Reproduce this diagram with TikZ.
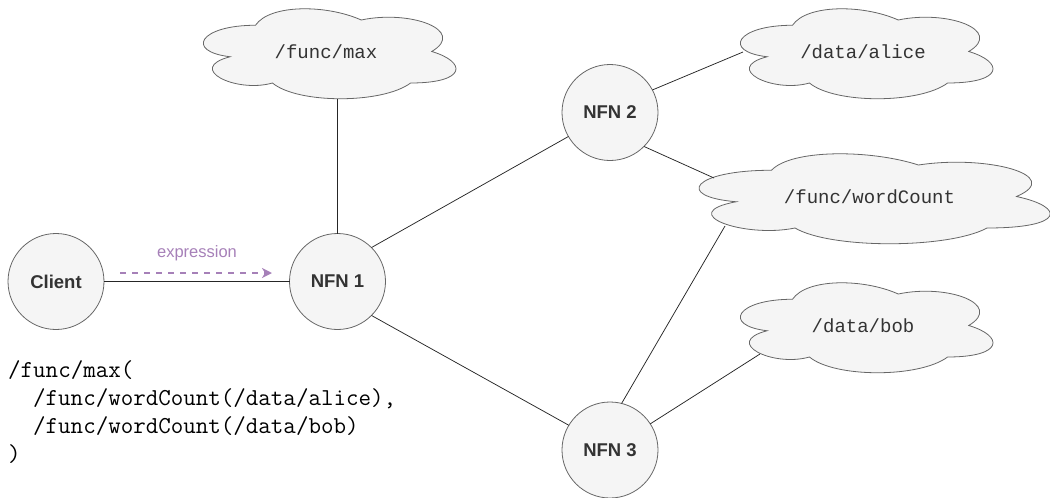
\documentclass[tikz,border=0pt]{standalone}
\usepackage{fontspec}
\setsansfont{Liberation Sans}
\newfontfamily\cloudmono{Liberation Mono}
\usetikzlibrary{arrows.meta}
\definecolor{nodefill}{HTML}{F5F5F5}
\definecolor{nodeline}{HTML}{666666}
\definecolor{nodetext}{HTML}{333333}
\definecolor{exprpurple}{HTML}{A680B8}
\newcommand\drawmycloud[4]{%
  \begin{scope}[shift={(#1,#2)},xscale=#3,yscale=#4]
    \path[cloudsty] (0.25,0.25) .. controls (0.05,0.25) and (0,0.5) .. (0.16,0.55)
      .. controls (0,0.66) and (0.18,0.9) .. (0.31,0.8)
      .. controls (0.4,1) and (0.7,1) .. (0.8,0.8)
      .. controls (1,0.8) and (1,0.6) .. (0.875,0.5)
      .. controls (1,0.3) and (0.8,0.1) .. (0.625,0.2)
      .. controls (0.5,0.05) and (0.3,0.05) .. (0.25,0.25) -- cycle;
  \end{scope}}
\tikzset{
  cloudsty/.style={fill=nodefill,draw=nodeline,line width=0.8pt},
  nfn/.style={circle,fill=nodefill,draw=nodeline,line width=0.8pt,minimum size=96pt,inner sep=0pt,outer sep=0pt,
    text=nodetext,font=\sffamily\bfseries\fontsize{18.5}{20}\selectfont},
  cloudtext/.style={inner sep=0pt,text=nodetext,font=\cloudmono\fontsize{19}{22}\selectfont},
  link/.style={draw=black!85,line width=0.75pt},
  codeline/.style={anchor=base west,inner sep=0pt,font=\ttfamily\fontsize{24.3}{28}\selectfont},
  exprarrow/.style={draw=exprpurple,line width=2pt,dash pattern=on 6pt off 6pt,
    -{Stealth[length=10pt,width=10pt,inset=3pt]}},
  exprlabel/.style={inner sep=0pt,text=exprpurple,font=\sffamily\fontsize{16.5}{18}\selectfont}
}
\begin{document}
\begin{tikzpicture}[x=1pt,y=-1pt]
\useasboundingbox (0,0) rectangle (1050,498);
% clouds
\drawmycloud{185}{-1}{282}{105}
\drawmycloud{722}{-1}{282}{105}
\drawmycloud{722}{273}{282}{105}
\drawmycloud{673.5}{144}{392}{105}
\node[cloudtext] (fmax) at (326,51.5) {/func/max};
\node[cloudtext] (alice) at (863,51.5) {/data/alice};
\node[cloudtext] (bob) at (863,325.5) {/data/bob};
\node[cloudtext] (wc) at (869.5,196.5) {/func/wordCount};
% cloud attachment points
\coordinate (fmaxs) at (337.5,99);
\coordinate (alicew) at (743,52);
\coordinate (wcnw) at (714,178);
\coordinate (wcsw) at (725,226);
\coordinate (bobsw) at (760,354);
% circles
\node[nfn] (client) at (56,281.5) {Client};
\node[nfn] (nfn1) at (337.5,281.5) {NFN 1};
\node[nfn] (nfn2) at (610,112.5) {NFN 2};
\node[nfn] (nfn3) at (610,450) {NFN 3};
% links
\draw[link] (client) -- (nfn1);
\draw[link] (nfn1.north) -- (fmaxs);
\draw[link] (nfn1.45) -- (nfn2.210);
\draw[link] (nfn1.-45) -- (nfn3.149);
\draw[link] (nfn2.28) -- (alicew);
\draw[link] (nfn2.-45) -- (wcnw);
\draw[link] (nfn3.76) -- (wcsw);
\draw[link] (nfn3.33) -- (bobsw);
% expression arrow
\coordinate (exa) at (120,273);
\coordinate (exb) at (272,273);
\draw[exprarrow] (exa) -- (exb);
\node[exprlabel] (exlab) at (197,253) {expression};
% code
\node[codeline] (code1) at (8,377) {/func/max(};
\node[codeline] (code2) at (33,405) {/func/wordCount(/data/alice),};
\node[codeline] (code3) at (33,433) {/func/wordCount(/data/bob)};
\node[codeline] (code4) at (8,461) {)};
\end{tikzpicture}
\end{document}
